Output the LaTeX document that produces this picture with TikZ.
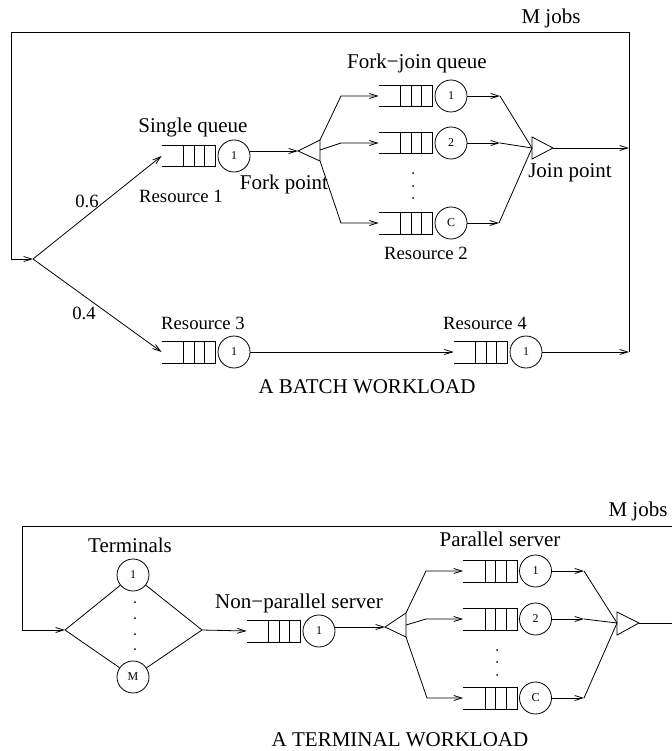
\documentclass[tikz,border=0pt]{standalone}
\usepackage{fontspec}
\setmainfont{Liberation Serif}
\usetikzlibrary{arrows.meta}
\newcommand\drawqueue[1]{%
  \draw (#1.north west) -- (#1.north east) -- (#1.south east) -- (#1.south west);
  \foreach \k in {1,2,3} \draw ([xshift=-\k*10.6pt]#1.north east) -- ([xshift=-\k*10.6pt]#1.south east);
}
\newcommand\qsrv[4]{%
  \node[qbox] (#1q) at (#2,#3) {};
  \drawqueue{#1q}
  \node[srv] (#1s) at (#2+45.5,#3) {#4};
}
\begin{document}
\begin{tikzpicture}[x=1pt,y=-1pt,line width=0.8pt,
  >={Straight Barb[length=8pt,width=5pt]},
  lbl/.style={font=\fontsize{21}{25}\selectfont,inner sep=0pt},
  rlbl/.style={font=\fontsize{18.7}{22}\selectfont,inner sep=0pt},
  srv/.style={circle,draw,minimum size=32pt,inner sep=0pt,font=\fontsize{12}{14}\selectfont},
  qbox/.style={minimum width=53pt,minimum height=21pt,inner sep=0pt}]
\useasboundingbox (0,0) rectangle (671,751);

% ---------------- batch workload ----------------
\qsrv{sq}{188.5}{156}{1}
\qsrv{ra}{188.5}{352}{1}
\qsrv{rb}{480.5}{352}{1}
\qsrv{fa}{405.5}{96}{1}
\qsrv{fb}{405.5}{143}{2}
\qsrv{fc}{405.5}{223}{C}

\coordinate (split) at (33,259);
\coordinate (lpA) at (11,32);
\coordinate (lpB) at (11,259);
\coordinate (lpC) at (629,32);
\coordinate (rjA) at (629,148);
\coordinate (rrA) at (629,352);

\coordinate (ftip) at (298,151);
\coordinate (ftop) at (320,140);
\coordinate (fbot) at (320,161);
\coordinate (fmid) at (320,150);
\draw (ftip) -- (ftop) -- (fbot) -- cycle;

\coordinate (fk1) at (341,96);
\coordinate (fk2) at (341,143);
\coordinate (fk3) at (341,223);
\draw[->] (ftop) -- (fk1) -- (faq.west);
\draw[->] (fmid) -- (fk2) -- (fbq.west);
\draw[->] (fbot) -- (fk3) -- (fcq.west);

\coordinate (jtip) at (553,148);
\coordinate (jtop) at (532,137);
\coordinate (jbot) at (532,159);
\coordinate (jmid) at (532,148);
\draw (jtip) -- (jtop) -- (jbot) -- cycle;

\coordinate (jk1) at (500,96);
\coordinate (jk2) at (500,143);
\coordinate (jk3) at (499,223);
\draw[->] (fas.east) -- (jk1);
\draw[->] (fbs.east) -- (jk2);
\draw[->] (fcs.east) -- (jk3);
\draw (jk1) -- (jmid);
\draw (jk2) -- (jmid);
\draw (jk3) -- (jmid);

\draw[->] (jtip) -- (rjA);
\draw[->] (rbs.east) -- (rrA);
\draw (rrA) -- (lpC) -- (lpA) -- (lpB);
\draw[->] (lpB) -- (split);
\draw[->] (split) -- (sqq.west);
\draw[->] (split) -- (raq.west);
\draw[->] (sqs.east |- ftip) -- (ftip);
\draw[->] (ras.east) -- (rbq.west);

\foreach \yy in {173,186,198} \fill (413,\yy) circle (1pt);

\node[lbl] (tMa) at (551,18) {M jobs};
\node[lbl] (tSq) at (193,127) {Single queue};
\node[rlbl] (tRa) at (181,196) {Resource 1};
\node[lbl] (tFp) at (284,184) {Fork point};
\node[lbl] (tFj) at (417,63) {Fork−join queue};
\node[lbl] (tJp) at (570,173) {Join point};
\node[rlbl] (tRb) at (426,253) {Resource 2};
\node[rlbl] (tP6) at (87,201) {0.6};
\node[rlbl] (tP4) at (84,313) {0.4};
\node[rlbl] (tRc) at (203,323) {Resource 3};
\node[rlbl] (tRd) at (485,323) {Resource 4};
\node[lbl] (tBw) at (367,387) {A BATCH WORKLOAD};

% ---------------- terminal workload ----------------
\qsrv{np}{273.5}{631}{1}
\qsrv{pa}{490}{571}{1}
\qsrv{pb}{490}{619}{2}
\qsrv{pc}{490}{698}{C}
\node[srv] (t1) at (133,575) {1};
\node[srv] (tm) at (133,677) {M};

\coordinate (dl) at (65,630);
\coordinate (dr) at (202,630);
\draw (dl) -- (t1);
\draw (dl) -- (tm);
\draw (t1) -- (dr);
\draw (tm) -- (dr);

\coordinate (lqA) at (22,526);
\coordinate (lqB) at (22,630);
\coordinate (lqC) at (680,526);
\draw (lqC) -- (lqA) -- (lqB);
\draw[->] (lqB) -- (dl);
\draw[->] (dr) -- (npq.west);

\coordinate (gtip) at (385,627);
\coordinate (gtop) at (406,613);
\coordinate (gbot) at (406,637);
\coordinate (gmid) at (406,625);
\draw (gtip) -- (gtop) -- (gbot) -- cycle;
\draw[->] (nps.east |- gtip) -- (gtip);

\coordinate (gk1) at (426,571);
\coordinate (gk2) at (426,619);
\coordinate (gk3) at (427,698);
\draw[->] (gtop) -- (gk1) -- (paq.west);
\draw[->] (gmid) -- (gk2) -- (pbq.west);
\draw[->] (gbot) -- (gk3) -- (pcq.west);

\coordinate (htip) at (639,623);
\coordinate (htop) at (617,612);
\coordinate (hbot) at (617,635);
\coordinate (hmid) at (617,623);
\draw (htip) -- (htop) -- (hbot) -- cycle;

\coordinate (hk1) at (584,571);
\coordinate (hk2) at (584,619);
\coordinate (hk3) at (584,698);
\draw[->] (pas.east) -- (hk1);
\draw[->] (pbs.east) -- (hk2);
\draw[->] (pcs.east) -- (hk3);
\draw (hk1) -- (hmid);
\draw (hk2) -- (hmid);
\draw (hk3) -- (hmid);
\coordinate (hout) at (680,623);
\draw (htip) -- (hout);

\foreach \yy in {650,662,675} \fill (497,\yy) circle (1pt);
\foreach \yy in {602,618,634,649} \fill (135,\yy) circle (1pt);

\node[lbl] (tMb) at (638,511) {M jobs};
\node[lbl] (tTe) at (130,545) {Terminals};
\node[lbl] (tNp) at (299,603) {Non−parallel server};
\node[lbl] (tPs) at (500,539) {Parallel server};
\node[lbl] (tTw) at (400,740) {A TERMINAL WORKLOAD};
\end{tikzpicture}
\end{document}
